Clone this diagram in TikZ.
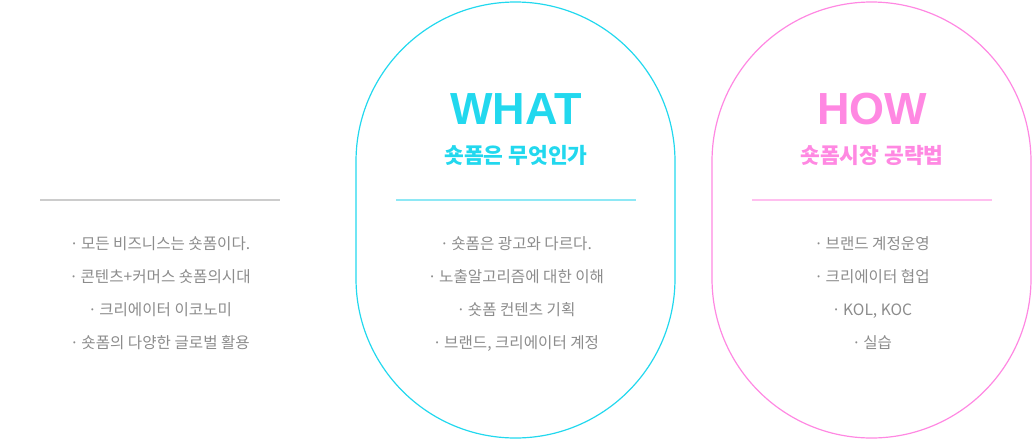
\documentclass[tikz,border=0pt]{standalone}
\usepackage{fontspec}
\setmainfont{Liberation Sans}
\newfontfamily\kr{Noto Sans CJK KR}
\newfontfamily\lat{Liberation Sans}
\definecolor{cyanT}{HTML}{22D8EE}
\definecolor{cyanL}{HTML}{8EE8F5}
\definecolor{pinkT}{HTML}{FF88E2}
\definecolor{pinkL}{HTML}{FFBFEF}
\definecolor{bodygray}{HTML}{8C8C8C}
\definecolor{rulegray}{HTML}{CCCCCC}
\newcommand{\bulletdot}{·\hspace{2.5pt}}
\begin{document}
\begin{tikzpicture}[x=1pt,y=-1pt,
  stadium/.style={line width=1.2pt, rounded corners=159.5pt},
  rulestyle/.style={line width=1.5pt},
  bigtitle/.style={font=\lat\bfseries\fontsize{45}{45}\selectfont, inner sep=0pt, text height=32.2pt, text depth=0pt},
  subtitle/.style={font=\kr\bfseries\fontsize{21.5}{22}\selectfont, inner sep=0pt, text height=18.9pt, text depth=2.6pt},
  bodytext/.style={font=\kr\fontsize{15.6}{16}\selectfont, text=bodygray, inner sep=0pt, text height=13.7pt, text depth=1.9pt}]
\useasboundingbox (0,0) rectangle (1032,440);
% stadium shapes
\draw[stadium, cyanT] (356,2) rectangle (675,438);
\draw[stadium, pinkT] (712,2) rectangle (1031,438);
% rules
\coordinate (l1) at (40,200); \coordinate (l2) at (280,200);
\coordinate (m1) at (396,200); \coordinate (m2) at (636,200);
\coordinate (r1) at (752,200); \coordinate (r2) at (992,200);
\draw[rulestyle, rulegray] (l1) -- (l2);
\draw[rulestyle, cyanL] (m1) -- (m2);
\draw[rulestyle, pinkL] (r1) -- (r2);
% titles
\node[bigtitle, text=cyanT] (what) at (516,108.5) {WHAT};
\node[subtitle, text=cyanT] (whatsub) at (516,155.5) {숏폼은 무엇인가};
\node[bigtitle, text=pinkT] (how) at (872,108.5) {HOW};
\node[subtitle, text=pinkT] (howsub) at (872,155.5) {숏폼시장 공략법};
% left body
\node[bodytext] (a1) at (160,244) {\bulletdot 모든 비즈니스는 숏폼이다.};
\node[bodytext] (a2) at (160,277) {\bulletdot 콘텐츠+커머스 숏폼의시대};
\node[bodytext] (a3) at (160,310) {\bulletdot 크리에이터 이코노미};
\node[bodytext] (a4) at (160,343) {\bulletdot 숏폼의 다양한 글로벌 활용};
% middle body
\node[bodytext] (b1) at (516,244) {\bulletdot 숏폼은 광고와 다르다.};
\node[bodytext] (b2) at (516,277) {\bulletdot 노출알고리즘에 대한 이해};
\node[bodytext] (b3) at (516,310) {\bulletdot 숏폼 컨텐츠 기획};
\node[bodytext] (b4) at (516,343) {\bulletdot 브랜드, 크리에이터 계정};
% right body
\node[bodytext] (c1) at (872,244) {\bulletdot 브랜드 계정운영};
\node[bodytext] (c2) at (872,277) {\bulletdot 크리에이터 협업};
\node[bodytext] (c3) at (872,310) {\bulletdot KOL, KOC};
\node[bodytext] (c4) at (872,343) {\bulletdot 실습};
\end{tikzpicture}
\end{document}
